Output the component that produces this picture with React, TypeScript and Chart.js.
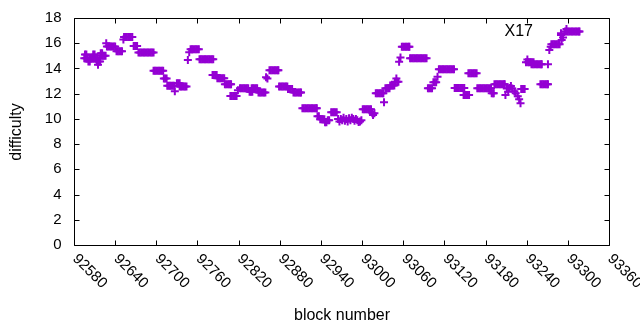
import React, { useEffect, useRef } from "react";
import { Chart, registerables } from "chart.js";

Chart.register(...registerables);

// block numbers (x) and difficulty values (y)
const blockNumber: number[] = [
  92595, 92596, 92597, 92598, 92599, 92601, 92602, 92603, 92604, 92605, 92607, 92608, 92609, 92610, 92611, 92612, 92613, 92614, 92615, 92616, 92617, 92618,
  92619, 92620, 92621, 92622, 92624, 92626,
  92627,
  92628, 92630, 92632, 92634, 92636, 92638, 92640,
  92642, 92644, 92646, 92648, 92650,
  92652, 92653, 92655, 92657, 92659, 92661, 92663, 92665,
  92667, 92669, 92671, 92672,
  92674, 92676, 92678, 92680, 92682, 92684, 92686, 92688, 92690, 92692, 92694, 92696,
  92696, 92698, 92700, 92702, 92704, 92706, 92708, 92710,
  92711, 92713, 92715,
  92716, 92718, 92720, 92722, 92724, 92726,
  92727,
  92730, 92732, 92734,
  92734, 92736, 92738, 92740, 92742, 92744,
  92746, 92748,
  92750, 92752, 92754, 92756, 92758, 92760, 92762,
  92763, 92765, 92767, 92769, 92771, 92773, 92775, 92777, 92779, 92781, 92783,
  92782, 92784, 92786, 92788,
  92789, 92791, 92793, 92795, 92797, 92799,
  92800, 92802, 92804, 92806, 92808, 92809,
  92808, 92810, 92812, 92814, 92816, 92817,
  92819,
  92822, 92824, 92826, 92828, 92830, 92832, 92834,
  92836, 92838, 92840,
  92839, 92841, 92843, 92845, 92847,
  92849, 92851, 92853, 92855, 92857, 92859,
  92860, 92862,
  92865, 92867, 92869, 92871, 92873, 92875, 92877, 92878,
  92879, 92881, 92883, 92885, 92887, 92889, 92891,
  92892, 92894, 92896, 92898,
  92900, 92902, 92904, 92906, 92908, 92910, 92911,
  92913, 92915, 92917, 92919, 92921, 92923, 92925, 92927, 92929, 92931, 92933, 92934,
  92935, 92937,
  92939, 92941, 92943, 92945,
  92946, 92948,
  92950, 92952,
  92955, 92957, 92959, 92961, 92963,
  92965, 92967, 92969, 92971, 92973, 92975, 92977, 92979, 92981, 92983, 92985, 92987, 92989, 92991, 92993, 92995, 92997, 92999,
  93001, 93003, 93005, 93007, 93009, 93011, 93013,
  93015, 93016, 93018,
  93020, 93022, 93024, 93026, 93028, 93030, 93031,
  93032,
  93034, 93036, 93038, 93040,
  93041, 93043, 93045, 93047,
  93048, 93050, 93051, 93053,
  93054, 93056,
  93058, 93060, 93062, 93064, 93066, 93068, 93069,
  93070, 93072, 93074, 93076, 93078, 93080, 93082, 93084, 93086, 93088, 93090, 93092, 93094,
  93096, 93098, 93100, 93102,
  93104, 93106, 93108, 93110,
  93112, 93114, 93116, 93118, 93120, 93122, 93124, 93126, 93128, 93130, 93132, 93134,
  93135, 93137, 93139, 93141, 93143, 93145, 93147, 93149,
  93148, 93150, 93152, 93154, 93156,
  93155, 93157, 93159, 93161, 93163, 93165, 93167,
  93168, 93170, 93172, 93174, 93176, 93178, 93180, 93182, 93184, 93186, 93188,
  93189, 93191, 93192,
  93193, 93195, 93197, 93199, 93201, 93203, 93205, 93207, 93208,
  93209, 93211, 93213, 93215, 93217, 93219, 93222, 93224, 93227, 93229, 93231,
  93232, 93234, 93236, 93237,
  93239, 93241, 93242, 93244, 93246, 93248, 93250,
  93247, 93249, 93251, 93253, 93255, 93257, 93259, 93261, 93262, 93271,
  93260, 93262, 93264, 93266, 93268, 93270, 93271,
  93273, 93275,
  93276, 93278, 93280, 93282, 93284, 93286, 93288,
  93290, 93290, 93291, 93293,
  93296, 93298, 93300, 93302, 93304, 93306, 93308, 93310, 93312, 93314, 93316, 93317,
  93298,
];

const difficulty: number[] = [
  14.8, 15.1, 14.8, 15.1, 14.8, 14.55, 14.8, 14.55, 14.8, 14.8, 14.8, 15.1, 14.8, 15.1, 14.8, 14.8, 14.55, 14.8, 14.3, 14.55, 14.8, 14.55,
  15.2, 15.0, 15.2, 15.0, 15.0, 15.0,
  16.0,
  15.75, 15.75, 15.75, 15.75, 15.75, 15.75, 15.75,
  15.36, 15.36, 15.36, 15.36, 15.36,
  16.3, 16.5, 16.5, 16.5, 16.5, 16.5, 16.5, 16.5,
  15.78, 15.78, 15.78, 15.78,
  15.27, 15.27, 15.27, 15.27, 15.27, 15.27, 15.27, 15.27, 15.27, 15.27, 15.27, 15.27,
  13.82, 13.82, 13.82, 13.82, 13.82, 13.82, 13.82, 13.82,
  13.2, 13.2, 13.2,
  12.63, 12.63, 12.63, 12.63, 12.63, 12.63,
  12.19,
  12.82, 12.82, 12.82,
  12.56, 12.56, 12.56, 12.56, 12.56, 12.56,
  14.67, 15.28,
  15.52, 15.52, 15.52, 15.52, 15.52, 15.52, 15.52,
  14.72, 14.72, 14.72, 14.72, 14.72, 14.72, 14.72, 14.72, 14.72, 14.72, 14.72,
  13.48, 13.48, 13.48, 13.48,
  13.22, 13.22, 13.22, 13.22, 13.22, 13.22,
  12.74, 12.74, 12.74, 12.74, 12.74, 12.74,
  11.82, 11.82, 11.82, 11.82, 11.82, 11.82,
  12.27,
  12.42, 12.42, 12.42, 12.42, 12.42, 12.42, 12.42,
  12.16, 12.16, 12.16,
  12.42, 12.42, 12.42, 12.42, 12.42,
  12.1, 12.1, 12.1, 12.1, 12.1, 12.1,
  13.3, 13.2,
  13.85, 13.85, 13.85, 13.85, 13.85, 13.85, 13.85, 13.85,
  12.56, 12.56, 12.56, 12.56, 12.56, 12.56, 12.56,
  12.37, 12.37, 12.37, 12.37,
  12.1, 12.1, 12.1, 12.1, 12.1, 12.1, 12.1,
  10.84, 10.84, 10.84, 10.84, 10.84, 10.84, 10.84, 10.84, 10.84, 10.84, 10.84, 10.84,
  10.2, 10.2,
  9.97, 9.97, 9.97, 9.97,
  9.73, 9.73,
  9.89, 9.89,
  10.52, 10.52, 10.52, 10.52, 10.52,
  10.0, 9.8, 10.0, 9.9, 10.1, 9.85, 10.0, 9.8, 10.05, 9.9, 10.1, 10.0, 9.85, 10.0, 9.9, 9.75, 9.8, 9.9,
  10.76, 10.76, 10.76, 10.76, 10.76, 10.76, 10.76,
  10.44, 10.3, 10.44,
  12.03, 12.03, 12.03, 12.03, 12.03, 12.03, 12.03,
  11.32,
  12.42, 12.42, 12.42, 12.42,
  12.64, 12.64, 12.64, 12.64,
  12.95, 13.2, 12.95, 12.95,
  14.54, 14.86,
  15.73, 15.73, 15.73, 15.73, 15.73, 15.73, 15.73,
  14.8, 14.8, 14.8, 14.8, 14.8, 14.8, 14.8, 14.8, 14.8, 14.8, 14.8, 14.8, 14.8,
  12.42, 12.42, 12.42, 12.42,
  12.9, 12.9, 12.9, 13.35,
  13.93, 13.93, 13.93, 13.93, 13.93, 13.93, 13.93, 13.93, 13.93, 13.93, 13.93, 13.93,
  12.45, 12.45, 12.45, 12.45, 12.45, 12.45, 12.45, 12.45,
  11.9, 11.9, 11.9, 11.9, 11.9,
  13.61, 13.61, 13.61, 13.61, 13.61, 13.61, 13.61,
  12.42, 12.42, 12.42, 12.42, 12.42, 12.42, 12.42, 12.42, 12.42, 12.42, 12.42,
  12.03, 12.03, 12.03,
  12.74, 12.74, 12.74, 12.74, 12.74, 12.74, 12.74, 12.74, 12.74,
  11.9, 12.4, 12.16, 12.45, 12.6, 12.4, 12.2, 12.03, 11.8, 11.55, 11.24,
  12.37, 12.37, 12.37, 12.37,
  14.49, 14.7, 14.5, 14.5, 14.5, 14.5, 14.5,
  14.33, 14.33, 14.33, 14.33, 14.33, 14.33, 14.33, 14.33, 14.33, 14.33,
  12.74, 12.74, 12.74, 12.74, 12.74, 12.74, 12.74,
  15.46, 15.73,
  15.91, 15.91, 15.91, 15.91, 15.91, 15.91, 15.91,
  16.65, 16.8, 16.26, 16.45,
  16.92, 16.92, 16.92, 16.92, 16.92, 16.92, 16.92, 16.92, 16.92, 16.92, 16.92, 16.92,
  17.13,
];

const xTicks = [92580, 92640, 92700, 92760, 92820, 92880, 92940, 93000, 93060, 93120, 93180, 93240, 93300, 93360];
const yTicks = [0, 2, 4, 6, 8, 10, 12, 14, 16, 18];
const seriesLabel = "X17";
const xTitle = "block number";
const yTitle = "difficulty";

const FONT = "'Liberation Sans', Arial, sans-serif";

export default function App() {
  const ref = useRef<HTMLCanvasElement>(null);

  useEffect(() => {
    if (!ref.current) return;
    const points = blockNumber.map((b, i) => ({ x: b, y: difficulty[i] }));

    const gnuplotFrame = {
      id: "gnuplotFrame",
      afterDraw(chart: any) {
        const { ctx, chartArea: a, scales } = chart;
        const xs = scales.x;
        const ys = scales.y;
        const L = Math.round(a.left) + 0.5;
        const R = Math.round(a.right) + 0.5;
        const T = Math.round(a.top) + 0.5;
        const B = Math.round(a.bottom) + 0.5;
        const tl = 5;
        ctx.save();
        ctx.strokeStyle = "#000";
        ctx.lineWidth = 1;
        ctx.beginPath();
        ctx.rect(L, T, R - L, B - T);
        for (const v of yTicks) {
          const py = Math.round(ys.getPixelForValue(v)) + 0.5;
          ctx.moveTo(L, py); ctx.lineTo(L + tl, py);
          ctx.moveTo(R, py); ctx.lineTo(R - tl, py);
        }
        for (const v of xTicks) {
          const px = Math.round(xs.getPixelForValue(v)) + 0.5;
          ctx.moveTo(px, B); ctx.lineTo(px, B - tl);
          ctx.moveTo(px, T); ctx.lineTo(px, T + tl);
        }
        ctx.stroke();

        ctx.fillStyle = "#000";
        ctx.font = `15px ${FONT}`;
        ctx.textAlign = "right";
        ctx.textBaseline = "middle";
        for (const v of yTicks) {
          ctx.fillText(String(v), L - 13, ys.getPixelForValue(v));
        }
        ctx.textAlign = "left";
        for (const v of xTicks) {
          const px = xs.getPixelForValue(v);
          ctx.save();
          ctx.translate(px + 1, B + 11);
          ctx.rotate(Math.PI / 4);
          ctx.fillText(String(v), 0, 0);
          ctx.restore();
        }
        ctx.font = `16px ${FONT}`;
        ctx.textAlign = "center";
        ctx.fillText(xTitle, (L + R) / 2, 316);
        ctx.save();
        ctx.translate(17, (T + B) / 2);
        ctx.rotate(-Math.PI / 2);
        ctx.fillText(yTitle, 0, 0);
        ctx.restore();
        ctx.textAlign = "right";
        ctx.fillText(seriesLabel, 533, 32);
        ctx.restore();
      },
    };

    const chart = new Chart(ref.current, {
      type: "scatter",
      data: {
        datasets: [
          {
            label: seriesLabel,
            data: points,
            pointStyle: "cross",
            pointRadius: 4,
            pointBorderWidth: 2,
            pointBorderColor: "#9400d3",
            pointBackgroundColor: "#9400d3",
            borderWidth: 2,
            borderColor: "#9400d3",
            backgroundColor: "#9400d3",
          },
        ],
      },
      options: {
        responsive: false,
        animation: false,
        layout: { padding: { left: 74, top: 18, right: 31, bottom: 85 } },
        plugins: { legend: { display: false }, tooltip: { enabled: false } },
        scales: {
          x: { type: "linear", min: 92580, max: 93360, display: false },
          y: { type: "linear", min: 0, max: 18, display: false },
        },
      },
      plugins: [gnuplotFrame],
    });
    return () => chart.destroy();
  }, []);

  return (
    <div style={{ position: "fixed", left: 0, top: 0, width: 640, height: 330, background: "#fff" }}>
      <canvas ref={ref} width={640} height={330} style={{ display: "block" }} />
    </div>
  );
}
